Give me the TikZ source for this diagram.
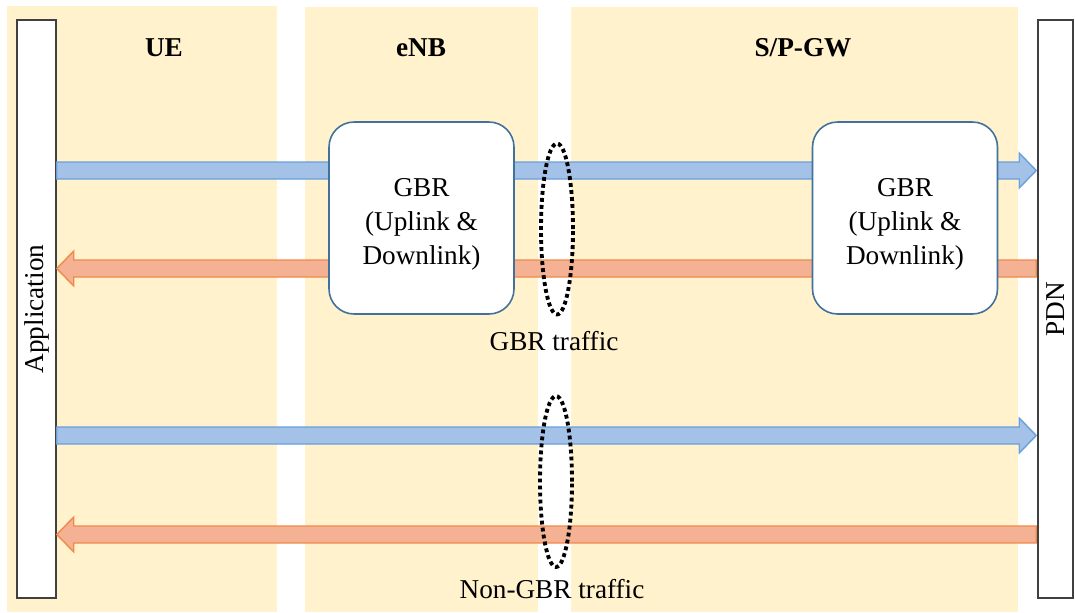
\documentclass[tikz,border=0pt]{standalone}
\usepackage{fontspec}
\setmainfont{Liberation Serif}
\usetikzlibrary{calc,shapes.geometric}

\definecolor{bandfill}{HTML}{FFF2CC}
\definecolor{upfill}{HTML}{A4C2E8}
\definecolor{upline}{HTML}{6A9FD8}
\definecolor{downfill}{HTML}{F4B193}
\definecolor{downline}{HTML}{F08A4B}
\definecolor{gbrline}{HTML}{41719C}
\definecolor{endline}{HTML}{404040}

\tikzset{
  band/.style={fill=bandfill},
  endbox/.style={draw=endline, line width=0.9pt, fill=white, inner sep=0pt,
    minimum width=#1, minimum height=11.56cm},
  gbrbox/.style={draw=gbrline, line width=0.9pt, fill=white, rounded corners=0.5cm,
    minimum width=3.7cm, minimum height=3.84cm},
  gbrtext/.style={align=center, font=\fontsize{15.5}{19.3}\selectfont},
  header/.style={font=\fontsize{15.5}{18}\selectfont\bfseries},
  txt/.style={font=\fontsize{15.5}{18}\selectfont},
  uparrow/.style={fill=upfill, draw=upline, line width=0.8pt},
  downarrow/.style={fill=downfill, draw=downline, line width=0.8pt},
  flowring/.style={ellipse, draw=black, line width=2.2pt,
    dash pattern=on 2.2pt off 1.8pt, inner sep=0pt,
    minimum width=0.64cm, minimum height=3.42cm},
}

% fat arrow from tail #2 to tip #3; #4 = +1 points right, -1 points left
\newcommand\fatarrow[4]{%
  \draw[#1] ($(#2)+(0,-8.5)$) -- ($(#3)+(-17*#4,-8.5)$) -- ($(#3)+(-17*#4,-17.5)$)
    -- (#3) -- ($(#3)+(-17*#4,17.5)$) -- ($(#3)+(-17*#4,8.5)$) -- ($(#2)+(0,8.5)$) -- cycle;}

\begin{document}
\begin{tikzpicture}[x=0.02cm,y=-0.02cm]
\useasboundingbox (0,0) rectangle (1075,612);

% domain bands
\fill[band] (7,6) rectangle (277,612);
\fill[band] (305,7) rectangle (538,612);
\fill[band] (571,7) rectangle (1018,612);

\node[header] (ue)  at (164,48) {UE};
\node[header] (enb) at (421,48) {eNB};
\node[header] (gw)  at (803,48) {S/P-GW};

% end points
\node[endbox=0.78cm] (app) at (36.5,309) {};
\node[txt, rotate=90] (applbl) at (app.center) {Application};
\node[endbox=0.70cm] (pdn) at (1055.5,309) {};
\node[txt, rotate=90] (pdnlbl) at (pdn.center) {PDN};

% bearer flows
\coordinate (g1a) at (app.east |- 0,170.5);
\coordinate (g1b) at ($(pdn.west |- 0,170.5)+(-1,0)$);
\coordinate (g2a) at (app.east |- 0,268.5);
\coordinate (g2b) at ($(pdn.west |- 0,268.5)+(-1,0)$);
\coordinate (n1a) at (app.east |- 0,435.5);
\coordinate (n1b) at ($(pdn.west |- 0,435.5)+(-1,0)$);
\coordinate (n2a) at (app.east |- 0,534.5);
\coordinate (n2b) at ($(pdn.west |- 0,534.5)+(-1,0)$);

\fatarrow{uparrow}{g1a}{g1b}{1}
\fatarrow{downarrow}{g2b}{g2a}{-1}
\fatarrow{uparrow}{n1a}{n1b}{1}
\fatarrow{downarrow}{n2b}{n2a}{-1}

% GBR bearer boxes
\node[gbrbox] (gbr1) at (421.5,218) {};
\node[gbrtext] (gbr1t) at ($(gbr1.center)+(0,6)$) {GBR\\(Uplink \&\\Downlink)};
\node[gbrbox] (gbr2) at (905,218) {};
\node[gbrtext] (gbr2t) at ($(gbr2.center)+(0,6)$) {GBR\\(Uplink \&\\Downlink)};

% traffic groupings
\node[flowring] (ring1) at (557,229) {};
\node[txt] (gbrlbl) at (554,341) {GBR traffic};
\node[flowring] (ring2) at (556,481.5) {};
\node[txt] (ngbrlbl) at (552,589) {Non-GBR traffic};
\end{tikzpicture}
\end{document}
